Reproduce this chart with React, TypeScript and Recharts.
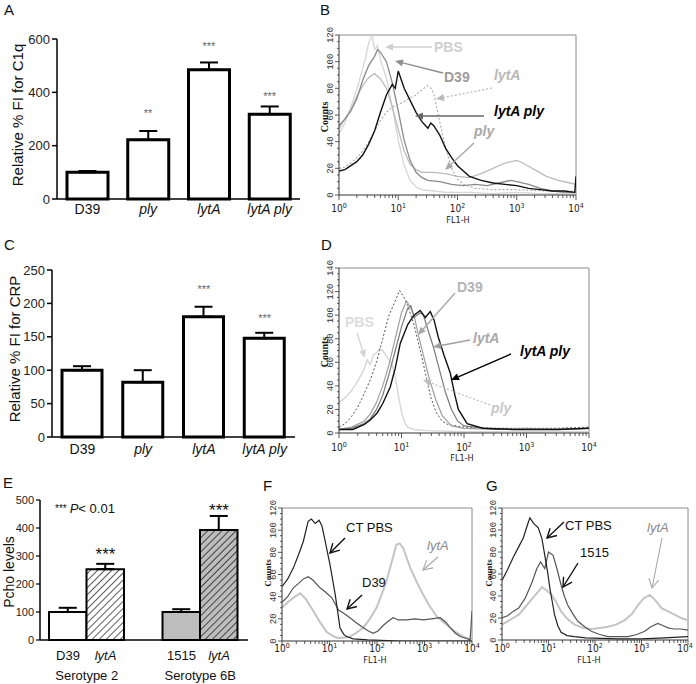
import React from 'react';
import {
  ComposedChart,
  LineChart,
  Bar,
  Line,
  ErrorBar,
  Cell,
  Scatter,
  XAxis,
  YAxis,
  ReferenceLine
} from 'recharts';

const FONT = 'Arial, "Liberation Sans", Helvetica, sans-serif';
const NARROW = '"Liberation Sans Narrow", "DejaVu Sans Condensed", Arial, sans-serif';
const MONO = '"Liberation Mono", "DejaVu Sans Mono", monospace';

// ---- A: C1q deposition ----
const A_STRAINS = ['D39', 'ply', 'lytA', 'lytA ply'];
const A_FI = [100, 222, 485, 318];
const A_SEM = [5, 33, 27, 29];
const A_STARS = ['', '**', '***', '***'];
const A_STAR_AT = [null, 326, 577, 390];

// ---- C: CRP deposition ----
const C_STRAINS = ['D39', 'ply', 'lytA', 'lytA ply'];
const C_FI = [100, 82, 180, 148];
const C_SEM = [6, 18, 15, 8];
const C_STARS = ['', '', '***', '***'];
const C_STAR_AT = [null, null, 223, 180];

// ---- E: Pcho levels ----
const E_GROUPS = ['Serotype 2', 'Serotype 6B'];
const E_WT = ['D39', '1515'];
const E_WT_PCHO = [100, 100];
const E_WT_SEM = [15, 10];
const E_MUT = ['lytA', 'lytA'];
const E_MUT_PCHO = [253, 393];
const E_MUT_SEM = [19, 50];
const E_MUT_STAR_AT = [314, 471];

// ---- histograms: [log10 FL1-H, counts] ----
const B_PBS = [[0,46],[0.1,54],[0.2,66],[0.3,79],[0.4,95],[0.45,103],[0.5,114],[0.56,120],[0.6,109],[0.65,112],[0.7,101],[0.8,88],[0.9,66],[1.0,41],[1.1,22],[1.2,11],[1.3,6],[1.4,4],[1.6,3],[1.8,2],[2.2,2],[2.6,1],[3.0,2],[3.4,1],[4.0,1]];
const B_D39 = [[0,52],[0.1,57],[0.2,63],[0.3,72],[0.4,86],[0.5,97],[0.6,104],[0.65,109],[0.7,107],[0.8,100],[0.9,84],[1.0,63],[1.1,41],[1.2,26],[1.3,17],[1.4,13],[1.5,11],[1.7,10],[1.9,8],[2.1,7],[2.3,8],[2.5,7],[2.7,9],[2.9,11],[3.0,10],[3.2,8],[3.4,5],[3.6,3],[3.8,2],[4.0,2]];
const B_PLY = [[0,50],[0.1,57],[0.2,64],[0.3,74],[0.4,82],[0.5,88],[0.6,91],[0.7,87],[0.8,80],[0.9,66],[1.0,49],[1.1,33],[1.2,23],[1.3,19],[1.4,17],[1.6,17],[1.8,16],[2.0,14],[2.2,13],[2.4,16],[2.6,20],[2.8,24],[3.0,26],[3.1,24],[3.3,19],[3.5,14],[3.7,11],[3.9,9],[4.0,8]];
const B_LYTA = [[0,20],[0.1,21],[0.2,24],[0.3,28],[0.4,33],[0.5,40],[0.6,48],[0.7,56],[0.8,62],[0.9,66],[1.0,68],[1.1,70],[1.2,73],[1.3,75],[1.4,79],[1.5,82],[1.55,80],[1.6,76],[1.7,55],[1.8,35],[1.9,20],[2.0,12],[2.1,8],[2.3,5],[2.6,4],[3.0,4],[3.5,3],[4.0,3]];
const B_LYTA_PLY = [[0,18],[0.1,19],[0.2,22],[0.3,25],[0.4,30],[0.5,38],[0.6,48],[0.7,62],[0.8,75],[0.9,83],[0.95,80],[1.0,93],[1.1,80],[1.2,71],[1.3,62],[1.4,55],[1.5,50],[1.55,54],[1.6,52],[1.7,45],[1.8,35],[1.9,28],[2.0,22],[2.1,18],[2.2,14],[2.4,11],[2.6,9],[2.8,8],[3.0,7],[3.2,5],[3.4,4],[3.6,3],[3.8,3],[3.98,2],[4.0,14]];

const D_PBS = [[0,26],[0.1,30],[0.2,36],[0.3,44],[0.4,54],[0.45,62],[0.5,58],[0.55,66],[0.6,68],[0.65,72],[0.7,70],[0.8,62],[0.85,58],[0.9,48],[0.95,32],[1.0,18],[1.05,9],[1.1,5],[1.2,3],[1.4,2],[2.0,1],[3.0,1],[4.0,1]];
const D_PLY = [[0,5],[0.1,8],[0.2,14],[0.3,22],[0.4,33],[0.5,45],[0.6,60],[0.7,80],[0.8,100],[0.9,112],[0.97,121],[1.05,114],[1.1,108],[1.2,92],[1.3,70],[1.39,49],[1.47,30],[1.55,18],[1.65,10],[1.75,7],[2.0,5],[2.5,4],[3.0,4],[3.5,4],[4.0,5]];
const D_D39 = [[0,3],[0.2,5],[0.4,10],[0.5,16],[0.6,26],[0.7,40],[0.8,58],[0.9,80],[1.0,102],[1.08,112],[1.15,106],[1.2,100],[1.27,83],[1.35,66],[1.45,45],[1.55,28],[1.65,15],[1.8,6],[2.0,4],[2.5,3],[3.0,4],[3.5,3],[4.0,4]];
const D_LYTA = [[0,3],[0.2,4],[0.4,8],[0.5,12],[0.6,20],[0.7,32],[0.8,50],[0.9,70],[1.0,90],[1.1,106],[1.15,108],[1.2,98],[1.3,102],[1.35,100],[1.42,88],[1.51,73],[1.6,55],[1.7,35],[1.8,20],[1.9,10],[2.0,6],[2.5,3],[3.0,3],[3.5,3],[4.0,4]];
const D_LYTA_PLY = [[0,3],[0.22,3],[0.4,7],[0.5,11],[0.61,17],[0.7,25],[0.82,39],[0.9,55],[0.98,76],[1.1,92],[1.2,100],[1.3,104],[1.38,98],[1.46,103],[1.52,96],[1.59,81],[1.68,66],[1.78,51],[1.85,33],[1.91,20],[2.05,8],[2.3,4],[2.8,3],[3.5,3],[4.0,4]];

const F_CT_PBS = [[0,49],[0.12,56],[0.24,66],[0.35,78],[0.45,90],[0.55,108],[0.62,110],[0.7,106],[0.78,109],[0.84,104],[0.9,92],[1.01,69],[1.12,42],[1.22,12],[1.3,6],[1.36,4],[1.5,2],[1.8,1],[2.5,0],[3.0,0],[4.0,0]];
const F_D39 = [[0,35],[0.12,40],[0.24,48],[0.35,52],[0.45,56],[0.55,58],[0.65,55],[0.8,48],[0.92,44],[1.05,39],[1.19,28],[1.3,25],[1.43,21],[1.55,17],[1.71,12],[1.82,9],[1.92,7],[2.02,9],[2.13,14],[2.24,18],[2.34,21],[2.45,19],[2.62,19],[2.8,20],[2.97,19],[3.15,20],[3.33,21],[3.45,17],[3.54,12],[3.65,7],[3.75,4],[3.9,2],[3.96,1],[4.0,27]];
const F_LYTA = [[0,30],[0.12,35],[0.24,39],[0.38,43],[0.5,38],[0.66,27],[0.8,17],[0.94,8],[1.05,5],[1.15,3],[1.3,3],[1.43,4],[1.55,7],[1.71,12],[1.85,20],[1.99,30],[2.1,42],[2.2,54],[2.3,70],[2.41,87],[2.48,88],[2.55,84],[2.7,66],[2.85,52],[2.97,42],[3.1,32],[3.26,22],[3.4,17],[3.54,12],[3.7,7],[3.82,4],[4.0,1]];

const G_CT_PBS = [[0,54],[0.12,64],[0.24,75],[0.35,84],[0.46,93],[0.55,105],[0.6,111],[0.68,106],[0.78,102],[0.86,92],[0.92,77],[0.98,62],[1.03,47],[1.08,35],[1.13,23],[1.2,13],[1.27,7],[1.4,4],[1.56,3],[1.8,2],[2.13,1.5],[2.5,1],[3.0,1],[3.5,2],[4.0,3]];
const G_1515 = [[0,20],[0.12,22],[0.24,26],[0.36,29],[0.5,38],[0.65,53],[0.75,65],[0.83,71],[0.92,65],[1.0,80],[1.1,77],[1.18,65],[1.27,50],[1.34,40],[1.41,32],[1.52,24],[1.63,17],[1.78,12],[1.92,8],[2.1,5],[2.28,3],[2.5,3],[2.71,3],[2.9,5],[3.07,8],[3.2,12],[3.35,15],[3.47,13],[3.57,11],[3.7,10],[3.85,10],[4.0,9]];
const G_LYTA = [[0,14],[0.12,17],[0.24,20],[0.36,23],[0.5,30],[0.62,36],[0.72,41],[0.86,48],[0.96,45],[1.07,41],[1.17,34],[1.27,26],[1.41,19],[1.56,14],[1.75,11],[1.92,10],[2.1,11],[2.28,12],[2.45,14],[2.64,18],[2.8,24],[2.93,32],[3.05,38],[3.18,41],[3.3,36],[3.43,29],[3.57,26],[3.71,23],[3.85,20],[4.0,18]];

// decades with minor ticks at 2..9
const LOG_TICKS: number[] = [];
for (let dec = 0; dec < 4; dec++) {
  for (let m = 1; m < 10; m++) LOG_TICKS.push(dec + Math.log10(m));
}
LOG_TICKS.push(4);

const countTicks = (max: number) => Array.from({ length: max / 5 + 1 }, (_, i) => i * 5);

const CatTick = ({ x, y, payload, dy }: any) => (
  <text x={x} y={y + dy} textAnchor="middle" fontSize={14} fontFamily={FONT} fill="#111"
    fontStyle={payload.value === 'D39' ? 'normal' : 'italic'}>
    {payload.value}
  </text>
);

const StarShape = (size: number, color: string, shift: number) => (props: any) => {
  const { cx, cy, payload } = props;
  if (payload.sy == null || !isFinite(cy)) return <g />;
  return (
    <text x={cx + shift} y={cy + size * 0.45} textAnchor="middle" fontSize={size} fontFamily={FONT} fill={color}>
      {payload.s}
    </text>
  );
};

function BarPanel({ cats, vals, errs, stars, starAt, box, domain, ticks, barSize, labelDy }: any) {
  const data = cats.map((c: string, i: number) => ({ cat: c, v: vals[i], e: errs[i], s: stars[i], sy: starAt[i] }));
  return (
    <div style={{ position: 'absolute', left: box.left, top: box.top }}>
      <ComposedChart width={box.width} height={box.height} data={data}
        margin={{ top: box.mt, right: box.mr, left: 0, bottom: 0 }}>
        <XAxis dataKey="cat" height={box.xh} interval={0} tickLine={false} tickSize={0} tickMargin={0}
          axisLine={{ stroke: '#000', strokeWidth: 1.5 }} tick={<CatTick dy={labelDy} />} />
        <YAxis width={box.yw} domain={domain} ticks={ticks} interval={0} tickSize={5}
          axisLine={{ stroke: '#000', strokeWidth: 1.5 }} tickLine={{ stroke: '#000', strokeWidth: 1.5 }}
          tick={{ fontSize: 13, fill: '#222', fontFamily: FONT }} />
        <Bar dataKey="v" fill="#fff" stroke="#000" strokeWidth={3} barSize={barSize} isAnimationActive={false}>
          <ErrorBar dataKey={(d: any) => [0, d.e]} width={9} stroke="#000" strokeWidth={2} direction="y" />
        </Bar>
        <Scatter dataKey="sy" shape={StarShape(11, '#666', 0)} isAnimationActive={false} />
      </ComposedChart>
    </div>
  );
}

const PchoTick = ({ x, y, index }: any) => (
  <g fontFamily={FONT} fontSize={13} fill="#111">
    <text x={x - 18.75} y={y + 20} textAnchor="middle">{E_WT[index]}</text>
    <text x={x + 18.75} y={y + 20} textAnchor="middle" fontStyle="italic">{E_MUT[index]}</text>
    <text x={x} y={y + 40} textAnchor="middle">{E_GROUPS[index]}</text>
  </g>
);

function PchoPanel() {
  const data = E_GROUPS.map((g, i) => ({
    g, wt: E_WT_PCHO[i], wtE: E_WT_SEM[i], mut: E_MUT_PCHO[i], mutE: E_MUT_SEM[i], s: '***', sy: E_MUT_STAR_AT[i]
  }));
  const wtFill = ['#ffffff', '#bdbdbd'];
  const mutFill = ['url(#hatchW)', 'url(#hatchG)'];
  return (
    <div style={{ position: 'absolute', left: 0, top: 455 }}>
      <ComposedChart width={258} height={229} data={data} barGap={0}
        margin={{ top: 45, right: 10, left: 0, bottom: 0 }}>
        <defs>
          <pattern id="hatchW" width="5" height="5" patternUnits="userSpaceOnUse" patternTransform="rotate(45)">
            <rect width="5" height="5" fill="#fff" />
            <line x1="0" y1="0" x2="0" y2="5" stroke="#000" strokeWidth="1.3" />
          </pattern>
          <pattern id="hatchG" width="5" height="5" patternUnits="userSpaceOnUse" patternTransform="rotate(45)">
            <rect width="5" height="5" fill="#bdbdbd" />
            <line x1="0" y1="0" x2="0" y2="5" stroke="#000" strokeWidth="1.3" />
          </pattern>
        </defs>
        <XAxis dataKey="g" height={44} interval={0} tickLine={false} tickSize={0} tickMargin={0}
          padding={{ left: -10, right: -9 }}
          axisLine={{ stroke: '#000', strokeWidth: 1.5 }} tick={<PchoTick />} />
        <YAxis width={40} domain={[0, 500]} ticks={[0, 100, 200, 300, 400, 500]} interval={0} tickSize={4}
          axisLine={{ stroke: '#000', strokeWidth: 1.5 }} tickLine={{ stroke: '#000', strokeWidth: 1.2 }}
          tick={{ fontSize: 11, fill: '#222', fontFamily: FONT }} />
        <Bar dataKey="wt" stroke="#000" strokeWidth={2} barSize={37.5} isAnimationActive={false}>
          {data.map((_, i) => <Cell key={`wt-${i}`} fill={wtFill[i]} />)}
          <ErrorBar dataKey={(d: any) => [0, d.wtE]} width={9} stroke="#000" strokeWidth={2} direction="y" />
        </Bar>
        <Bar dataKey="mut" stroke="#000" strokeWidth={2} barSize={37.5} isAnimationActive={false}>
          {data.map((_, i) => <Cell key={`mut-${i}`} fill={mutFill[i]} />)}
          <ErrorBar dataKey={(d: any) => [0, d.mutE]} width={9} stroke="#000" strokeWidth={2} direction="y" />
        </Bar>
        <Scatter dataKey="sy" shape={StarShape(17, '#111', 18.75)} isAnimationActive={false} />
      </ComposedChart>
    </div>
  );
}

const LogTick = ({ x, y, payload, dy, lastShift = 0 }: any) => {
  const v = payload.value;
  const major = Math.abs(v - Math.round(v)) < 1e-6;
  const lx = v === 4 ? x - lastShift : x;
  return (
    <g>
      <line x1={x} y1={y} x2={x} y2={y + (major ? 5 : 3)} stroke="#333" strokeWidth={0.8} />
      {major && (
        <text x={lx} y={y + dy} textAnchor="middle" fontSize={10} fontFamily={NARROW} fill="#222">
          10<tspan dy={-4} fontSize={7}>{Math.round(v)}</tspan>
        </text>
      )}
    </g>
  );
};

const CountTick = ({ x, y, payload }: any) => {
  const major = payload.value % 20 === 0;
  return (
    <g>
      <line x1={x} y1={y} x2={x - (major ? 4 : 2)} y2={y} stroke="#333" strokeWidth={0.8} />
      {major && (
        <text x={x - 6} y={y} textAnchor="middle" fontSize={9} fontFamily={MONO} fill="#333"
          transform={`rotate(-90 ${x - 6} ${y})`}>
          {payload.value}
        </text>
      )}
    </g>
  );
};

function HistPanel({ box, yMax, series, labelDy, lastShift = 0 }: any) {
  return (
    <div style={{ position: 'absolute', left: box.left, top: box.top }}>
      <LineChart width={box.width} height={box.height} margin={{ top: box.mt, right: box.mr, left: 0, bottom: 0 }}>
        <XAxis type="number" dataKey="d" domain={[0, 4]} ticks={LOG_TICKS} interval={0} allowDataOverflow
          height={box.xh} tickLine={false} tickSize={0} tickMargin={0}
          axisLine={{ stroke: '#333' }} tick={<LogTick dy={labelDy} lastShift={lastShift} />} />
        <YAxis type="number" domain={[0, yMax]} ticks={countTicks(yMax)} interval={0} allowDataOverflow
          width={box.yw} tickLine={false} tickSize={0} tickMargin={0}
          axisLine={{ stroke: '#333' }} tick={<CountTick />} />
        <ReferenceLine y={yMax} stroke="#8a8a8a" />
        <ReferenceLine x={4} stroke="#8a8a8a" />
        {series.map((s: any, i: number) => (
          <Line key={i} data={s.pts.map(([d, c]: number[]) => ({ d, c }))} dataKey="c" type="linear"
            stroke={s.color} strokeWidth={s.w ?? 1.1} strokeDasharray={s.dash} dot={false}
            isAnimationActive={false} />
        ))}
      </LineChart>
    </div>
  );
}

function Arrow({ x1, y1, x2, y2, color, dash, w = 1.4, open = false }: any) {
  const a = Math.atan2(y2 - y1, x2 - x1);
  const L = open ? 9 : 8;
  const H = open ? 5 : 3.5;
  const bx = x2 - L * Math.cos(a);
  const by = y2 - L * Math.sin(a);
  const p1 = [bx + H * Math.sin(a), by - H * Math.cos(a)];
  const p2 = [bx - H * Math.sin(a), by + H * Math.cos(a)];
  return (
    <g>
      <line x1={x1} y1={y1} x2={open ? x2 : bx} y2={open ? y2 : by} stroke={color} strokeWidth={w} strokeDasharray={dash} />
      {open ? (
        <polyline points={`${p1[0]},${p1[1]} ${x2},${y2} ${p2[0]},${p2[1]}`} fill="none" stroke={color} strokeWidth={w} />
      ) : (
        <polygon points={`${x2},${y2} ${p1[0]},${p1[1]} ${p2[0]},${p2[1]}`} fill={color} />
      )}
    </g>
  );
}

const VText = ({ x, y, size, children, weight = 'normal', family = FONT }: any) => (
  <text x={x} y={y} fontSize={size} fontFamily={family} fontWeight={weight} textAnchor="middle" fill="#111"
    transform={`rotate(-90 ${x} ${y})`}>
    {children}
  </text>
);

function Overlay() {
  const bi = { fontFamily: FONT, fontWeight: 'bold', fontSize: 14 } as const;
  const reg = { fontFamily: FONT, fontSize: 13 } as const;
  const fl = { fontFamily: NARROW, fontSize: 9, fill: '#222', textAnchor: 'middle' } as const;
  return (
    <svg width={696} height={684} style={{ position: 'absolute', left: 0, top: 0, pointerEvents: 'none' }}>
      <g fontFamily={FONT} fontSize={15} fill="#111">
        <text x={4} y={15}>A</text>
        <text x={320} y={15}>B</text>
        <text x={4} y={250}>C</text>
        <text x={321} y={250}>D</text>
        <text x={3} y={488}>E</text>
        <text x={263} y={491}>F</text>
        <text x={486} y={491}>G</text>
      </g>

      <VText x={23} y={115} size={15}>Relative % FI for C1q</VText>
      <VText x={20} y={349} size={15}>Relative % FI for CRP</VText>
      <VText x={14} y={572} size={14}>Pcho levels</VText>
      <VText x={328} y={117} size={10} weight="bold" family="'Liberation Serif', serif">Counts</VText>
      <VText x={328} y={352} size={10} weight="bold" family="'Liberation Serif', serif">Counts</VText>
      <VText x={271} y={573} size={9} weight="bold" family="'Liberation Serif', serif">Counts</VText>
      <VText x={492} y={573} size={9} weight="bold" family="'Liberation Serif', serif">Counts</VText>

      <text x={458} y={223} {...fl}>FL1-H</text>
      <text x={462} y={461} {...fl}>FL1-H</text>
      <text x={375} y={663} {...fl}>FL1-H</text>
      <text x={589} y={663} {...fl}>FL1-H</text>

      <text x={55} y={513} fontFamily={FONT} fontSize={13} fill="#111">
        <tspan fontSize={10} dy={-1}>***</tspan>
        <tspan dy={1} dx={3} fontStyle="italic">P</tspan>
        <tspan>{'< 0.01'}</tspan>
      </text>

      {/* B annotations */}
      <text x={434} y={52} {...bi} fill="#cfcfcf">PBS</text>
      <Arrow x1={432} y1={47} x2={385} y2={47} color="#cfcfcf" />
      <text x={444} y={82} {...bi} fill="#9c9c9c">D39</text>
      <Arrow x1={443} y1={73} x2={395} y2={61} color="#8c8c8c" />
      <text x={494} y={80} {...bi} fontStyle="italic" fill="#b8b8b8">lytA</text>
      <Arrow x1={492} y1={88} x2={436} y2={99} color="#b8b8b8" dash="2 2" w={1.2} />
      <text x={494} y={116} {...bi} fontStyle="italic" fill="#000">lytA ply</text>
      <Arrow x1={484} y1={116} x2={415} y2={116} color="#666" />
      <text x={474} y={136} {...bi} fontStyle="italic" fill="#a8a8a8">ply</text>
      <Arrow x1={474} y1={143} x2={445} y2={170} color="#a8a8a8" />

      {/* D annotations */}
      <text x={457} y={292} {...bi} fill="#b4b4b4">D39</text>
      <Arrow x1={455} y1={293} x2={418} y2={335} color="#a8a8a8" />
      <text x={345} y={327} {...bi} fill="#dcdcdc">PBS</text>
      <Arrow x1={357} y1={333} x2={365} y2={358} color="#d4d4d4" />
      <text x={473} y={343} {...bi} fontStyle="italic" fill="#a8a8a8">lytA</text>
      <Arrow x1={470} y1={340} x2={433} y2={347} color="#a0a0a0" />
      <text x={520} y={356} {...bi} fontStyle="italic" fill="#000">lytA ply</text>
      <Arrow x1={511} y1={354} x2={451} y2={380} color="#000" />
      <text x={491} y={413} {...bi} fontStyle="italic" fill="#c8c8c8">ply</text>
      <Arrow x1={490} y1={405} x2={423} y2={380} color="#bdbdbd" dash="2 2" w={1.2} />

      {/* F annotations */}
      <text x={346} y={532} {...reg} fill="#111">CT PBS</text>
      <Arrow x1={345} y1={538} x2={330} y2={553} color="#111" open />
      <text x={362} y={587} {...reg} fill="#111">D39</text>
      <Arrow x1={362} y1={595} x2={347} y2={609} color="#111" open />
      <text x={427} y={550} {...reg} fontStyle="italic" fill="#8a8a8a">lytA</text>
      <Arrow x1={438} y1={557} x2={423} y2={570} color="#a8a8a8" open w={1.1} />

      {/* G annotations */}
      <text x={565} y={530} {...reg} fill="#111">CT PBS</text>
      <Arrow x1={564} y1={522} x2={547} y2={538} color="#111" open />
      <text x={580} y={557} {...reg} fill="#111">1515</text>
      <Arrow x1={578} y1={563} x2={563} y2={587} color="#111" open />
      <text x={647} y={532} {...reg} fontStyle="italic" fill="#8a8a8a">lytA</text>
      <Arrow x1={662} y1={538} x2={652} y2={588} color="#a8a8a8" open w={1.1} />
    </svg>
  );
}

export default function App() {
  return (
    <div style={{ position: 'absolute', left: 0, top: 0, width: 696, height: 684, background: '#fff', overflow: 'hidden' }}>
      <BarPanel cats={A_STRAINS} vals={A_FI} errs={A_SEM} stars={A_STARS} starAt={A_STAR_AT}
        box={{ left: 0, top: 0, width: 310, height: 225, mt: 39, mr: 10, yw: 57, xh: 26 }}
        domain={[0, 600]} ticks={[0, 200, 400, 600]} barSize={41} labelDy={15} />
      <BarPanel cats={C_STRAINS} vals={C_FI} errs={C_SEM} stars={C_STARS} starAt={C_STAR_AT}
        box={{ left: 0, top: 225, width: 305, height: 240, mt: 45, mr: 10, yw: 52, xh: 28 }}
        domain={[0, 250]} ticks={[0, 50, 100, 150, 200, 250]} barSize={40} labelDy={17} />
      <PchoPanel />
      <HistPanel box={{ left: 300, top: 20, width: 286, height: 207, mt: 15, mr: 10, yw: 39, xh: 32 }}
        yMax={120} labelDy={17}
        series={[
          { pts: B_PBS, color: '#d6d6d6', w: 1.3 },
          { pts: B_PLY, color: '#bcbcbc', w: 1.3 },
          { pts: B_D39, color: '#8c8c8c', w: 1.3 },
          { pts: B_LYTA, color: '#a8a8a8', w: 1.1, dash: '2 2' },
          { pts: B_LYTA_PLY, color: '#111', w: 1.4 }
        ]} />
      <HistPanel box={{ left: 300, top: 240, width: 299, height: 223, mt: 28, mr: 10, yw: 39, xh: 30 }}
        yMax={140} labelDy={18}
        series={[
          { pts: D_PBS, color: '#d6d6d6', w: 1.4 },
          { pts: D_PLY, color: '#555', w: 1, dash: '2 2' },
          { pts: D_D39, color: '#a0a0a0', w: 1.2 },
          { pts: D_LYTA, color: '#7a7a7a', w: 1.2 },
          { pts: D_LYTA_PLY, color: '#111', w: 1.4 }
        ]} />
      <HistPanel box={{ left: 245, top: 490, width: 235, height: 179, mt: 18, mr: 8, yw: 37, xh: 28 }}
        yMax={120} labelDy={11}
        series={[
          { pts: F_LYTA, color: '#c4c4c4', w: 2 },
          { pts: F_D39, color: '#555', w: 1.2 },
          { pts: F_CT_PBS, color: '#222', w: 1.2 }
        ]} />
      <HistPanel box={{ left: 465, top: 490, width: 229, height: 178, mt: 18, mr: 6, yw: 37, xh: 28 }}
        yMax={120} labelDy={12} lastShift={3}
        series={[
          { pts: G_LYTA, color: '#c4c4c4', w: 2 },
          { pts: G_1515, color: '#555', w: 1.2 },
          { pts: G_CT_PBS, color: '#222', w: 1.2 }
        ]} />
      <Overlay />
    </div>
  );
}
